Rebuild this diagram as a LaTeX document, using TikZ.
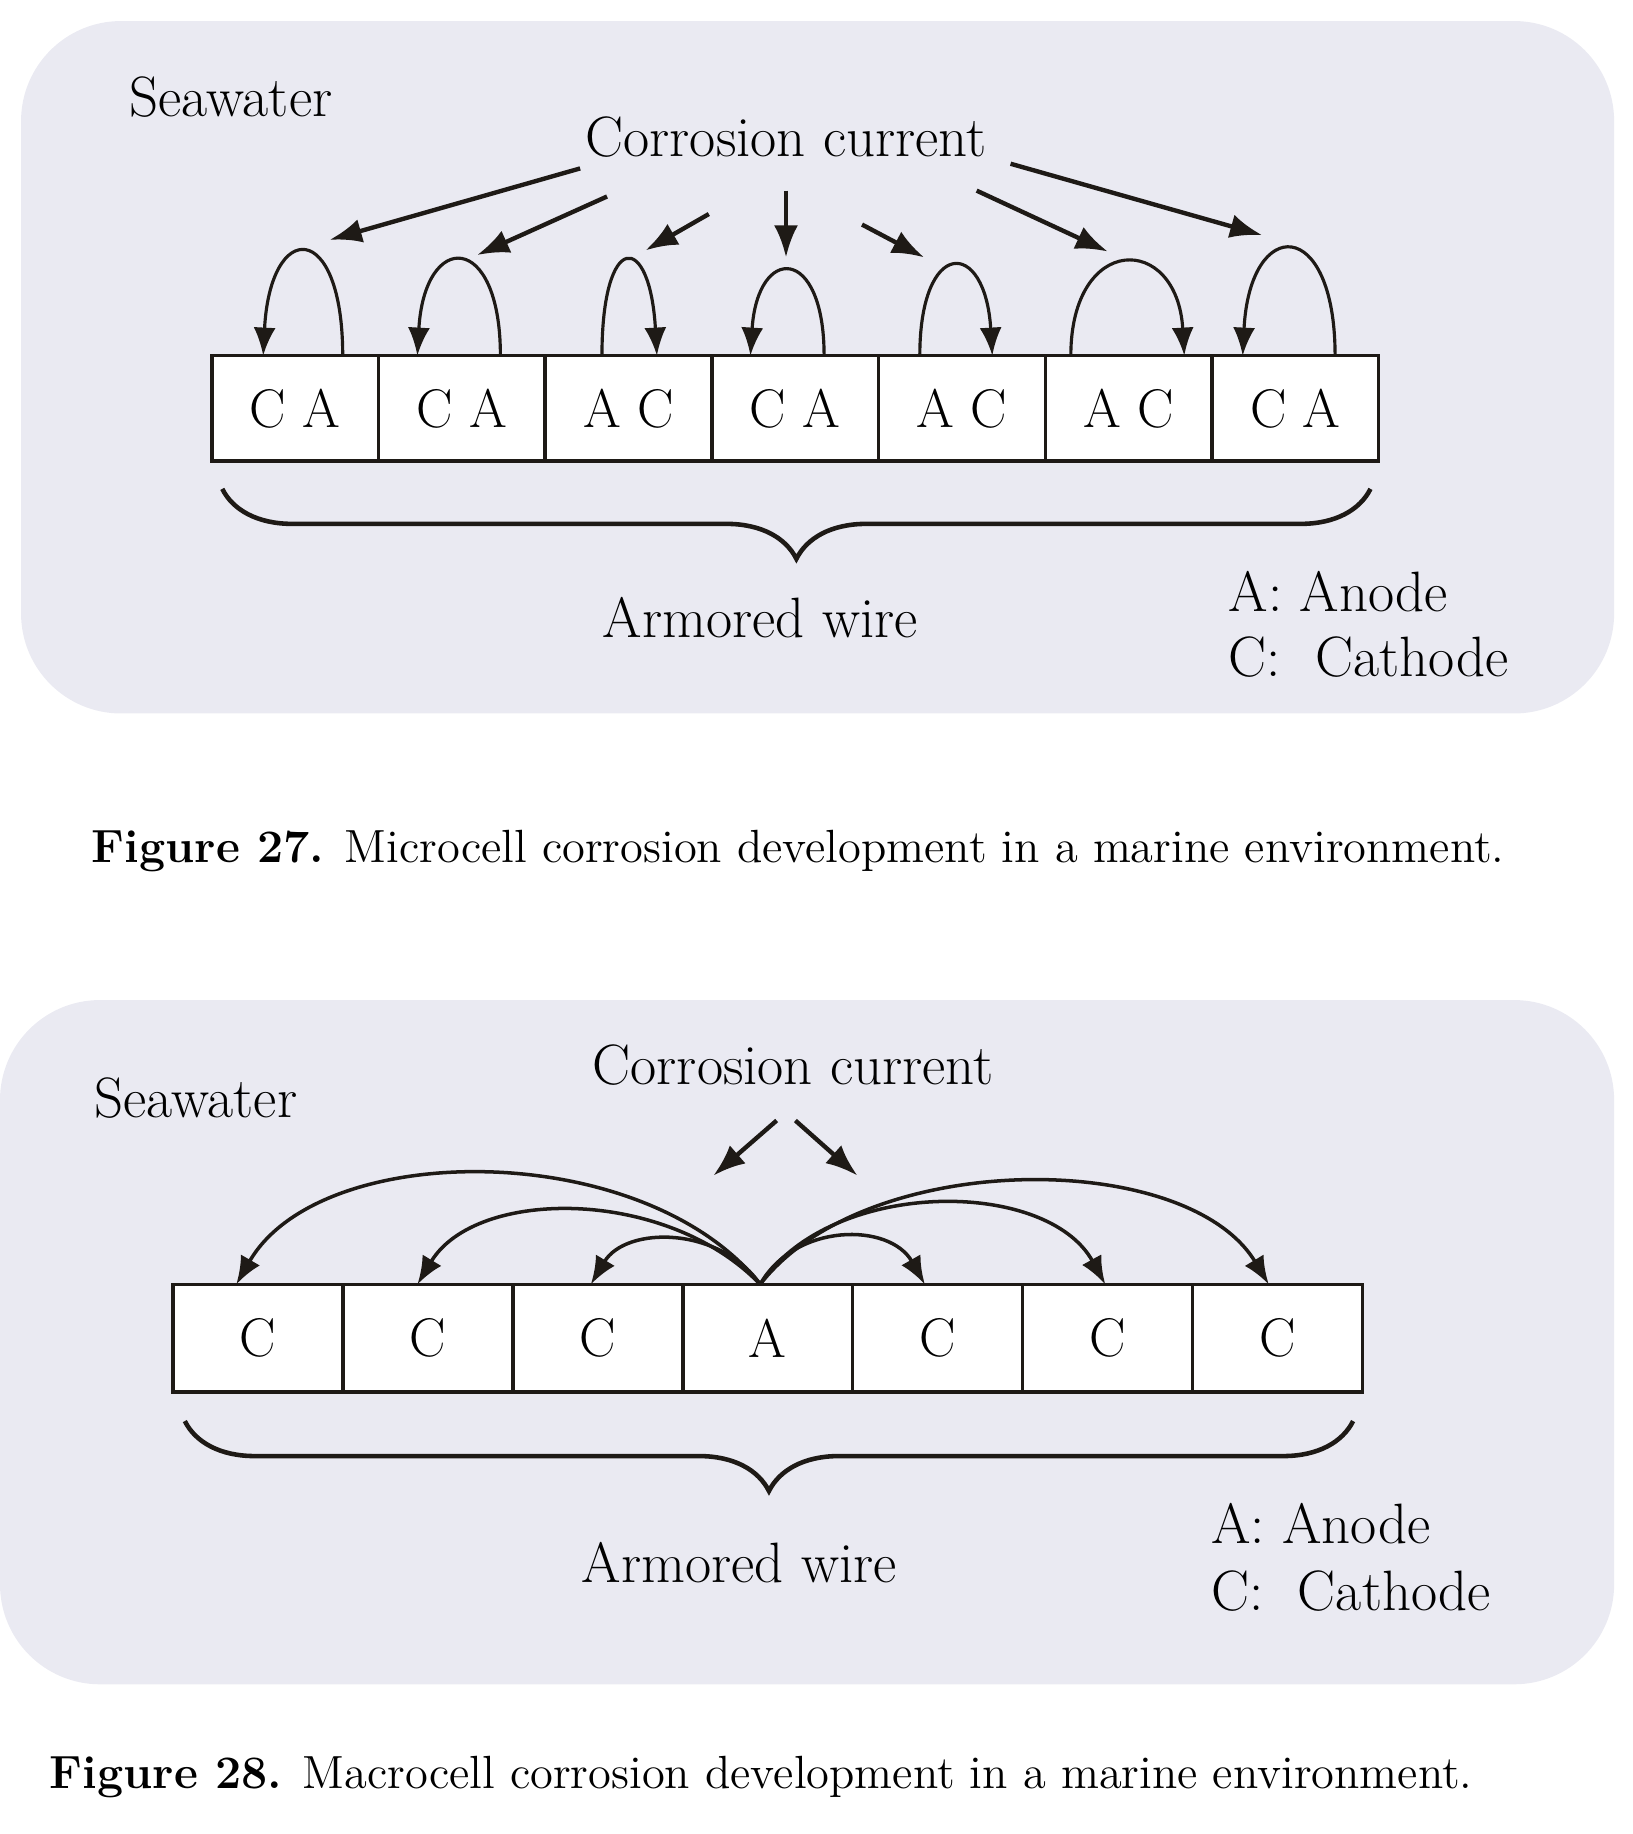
\documentclass[tikz,border=0pt]{standalone}
\usepackage{tikz}
\usetikzlibrary{
  arrows.meta,
  positioning,
  calc,
  decorations.pathreplacing
}
\definecolor{watercolor}{RGB}{234, 234, 242}
\definecolor{wirecolor}{RGB}{30, 26, 22}
\tikzset{
labeltext/.style={
  font=\fontsize{16.2}{19}\selectfont,
  inner sep=0pt
},
captiontext/.style={
  font=\fontsize{13.25}{16}\selectfont,
  inner sep=0pt
},
cellbox/.style={
  draw=wirecolor,
  line width=1pt,
  fill=white,
  inner sep=0pt,
  outer sep=0pt,
  minimum width=1.668cm,
  minimum height=1.053cm,
  font=\fontsize{15.5}{18}\selectfont
},
widecell/.style={
  cellbox,
  minimum width=1.700cm,
  minimum height=1.076cm
},
currentarrow/.style={
  -{Latex[length=3.2mm,width=2.4mm]},
  line width=1.25pt,
  draw=wirecolor
},
looparrow/.style={
  -{Latex[length=2.8mm,width=2.2mm]},
  line width=0.9pt,
  draw=wirecolor
},
wirebrace/.style={
  decorate,
  decoration={brace, mirror, amplitude=7mm},
  line width=1.3pt,
  draw=wirecolor
}
}

\begin{document}
\begin{tikzpicture}[x=0.011698cm, y=0.011698cm]
  \useasboundingbox (0,0) rectangle (1396,-1568);

  % Figure 27: microcell
  \fill[watercolor, rounded corners=1cm] (18,-18) rectangle (1380,-610);
  \node[labeltext, anchor=base west] (sea1) at (110,-100) {Seawater};
  \node[labeltext, anchor=base] (cur1) at (672,-134) {Corrosion current};

  \node[cellbox] (t1) at (252.3,-349) {C A};
  \node[cellbox, right=0pt of t1] (t2) {C A};
  \node[cellbox, right=0pt of t2] (t3) {A C};
  \node[cellbox, right=0pt of t3] (t4) {C A};
  \node[cellbox, right=0pt of t4] (t5) {A C};
  \node[cellbox, right=0pt of t5] (t6) {A C};
  \node[cellbox, right=0pt of t6] (t7) {C A};

  % local loops, anode to cathode
  \draw[looparrow] ($(t1.north)+(40.7,0)$) .. controls +(0,117) and +(6,117) .. ($(t1.north)+(-27.3,0)$);
  \draw[looparrow] ($(t2.north)+(33,0)$) .. controls +(0,107) and +(6,107) .. ($(t2.north)+(-38,0)$);
  \draw[looparrow] ($(t3.north)+(-22.7,0)$) .. controls +(0,107) and +(-6,107) .. ($(t3.north)+(24.3,0)$);
  \draw[looparrow] ($(t4.north)+(24.7,0)$) .. controls +(0,95) and +(6,95) .. ($(t4.north)+(-38.3,0)$);
  \draw[looparrow] ($(t5.north)+(-36,0)$) .. controls +(0,101) and +(-6,101) .. ($(t5.north)+(26,0)$);
  \draw[looparrow] ($(t6.north)+(-49.4,0)$) .. controls +(0,105) and +(-6,105) .. ($(t6.north)+(47.6,0)$);
  \draw[looparrow] ($(t7.north)+(34,0)$) .. controls +(0,120) and +(6,120) .. ($(t7.north)+(-45,0)$);

  % pointers from the label
  \coordinate (p1a) at (496,-144);  \coordinate (p1b) at (282,-205);
  \coordinate (p2a) at (519,-168);  \coordinate (p2b) at (408,-218);
  \coordinate (p3a) at (606,-183);  \coordinate (p3b) at (552,-214);
  \coordinate (p4a) at (672,-163);  \coordinate (p4b) at (672,-220);
  \coordinate (p5a) at (737,-192);  \coordinate (p5b) at (790,-220);
  \coordinate (p6a) at (835,-163);  \coordinate (p6b) at (947,-215);
  \coordinate (p7a) at (864,-140);  \coordinate (p7b) at (1079,-201);
  \draw[currentarrow] (p1a) -- (p1b);
  \draw[currentarrow] (p2a) -- (p2b);
  \draw[currentarrow] (p3a) -- (p3b);
  \draw[currentarrow] (p4a) -- (p4b);
  \draw[currentarrow] (p5a) -- (p5b);
  \draw[currentarrow] (p6a) -- (p6b);
  \draw[currentarrow] (p7a) -- (p7b);

  \draw[wirebrace] ($(t1.south west)+(9,-24)$) -- ($(t7.south east)+(-7,-24)$);
  \node[labeltext, anchor=base] (wire1) at (650,-545) {Armored wire};
  \node[labeltext, anchor=base west] (an1) at (1050,-523) {A: Anode};
  \node[labeltext, anchor=base west] (ca1) at (1050,-578) {C:\ \ Cathode};

  \node[captiontext, anchor=base west] (cap1) at (78,-737)
    {\textbf{Figure 27.} Microcell corrosion development in a marine environment.};

  % Figure 28: macrocell
  \fill[watercolor, rounded corners=1cm] (0,-855) rectangle (1380,-1440);
  \node[labeltext, anchor=base] (cur2) at (678,-927) {Corrosion current};
  \node[labeltext, anchor=base west] (sea2) at (80,-955) {Seawater};

  \node[widecell] (b1) at (220.65,-1144) {C};
  \node[widecell, right=0pt of b1] (b2) {C};
  \node[widecell, right=0pt of b2] (b3) {C};
  \node[widecell, right=0pt of b3] (b4) {A};
  \node[widecell, right=0pt of b4] (b5) {C};
  \node[widecell, right=0pt of b5] (b6) {C};
  \node[widecell, right=0pt of b6] (b7) {C};

  \coordinate (q1a) at (664,-958);  \coordinate (q1b) at (610,-1005);
  \coordinate (q2a) at (680,-958);  \coordinate (q2b) at (733,-1005);
  \draw[currentarrow] (q1a) -- (q1b);
  \draw[currentarrow] (q2a) -- (q2b);

  % anode spreads to every cathode
  \coordinate (src) at ($(b4.north)+(-6.5,0)$);
  \draw[looparrow, line width=1pt] (src) .. controls +(-99,125) and +(72,125) .. ($(b1.north)+(-18.6,0)$);
  \draw[looparrow, line width=1pt] (src) .. controls +(-80,83) and +(50,83) .. ($(b2.north)+(-9,0)$);
  \draw[looparrow, line width=1pt] (src) .. controls +(-35,50) and +(30,50) .. ($(b3.north)+(-6,0)$);
  \draw[looparrow, line width=1pt] (src) .. controls +(30,53) and +(-30,53) .. ($(b5.north)+(-11,0)$);
  \draw[looparrow, line width=1pt] (src) .. controls +(60,91) and +(-50,91) .. ($(b6.north)+(-2,0)$);
  \draw[looparrow, line width=1pt] (src) .. controls +(90,116) and +(-70,116) .. ($(b7.north)+(-7.5,0)$);

  \draw[wirebrace] ($(b1.south west)+(10,-25)$) -- ($(b7.south east)+(-8,-25)$);
  \node[labeltext, anchor=base] (wire2) at (632,-1353) {Armored wire};
  \node[labeltext, anchor=base west] (an2) at (1035,-1320) {A: Anode};
  \node[labeltext, anchor=base west] (ca2) at (1035,-1377) {C:\ \ Cathode};

  \node[captiontext, anchor=base west] (cap2) at (42,-1529)
    {\textbf{Figure 28.} Macrocell corrosion development in a marine environment.};
\end{tikzpicture}
\end{document}
